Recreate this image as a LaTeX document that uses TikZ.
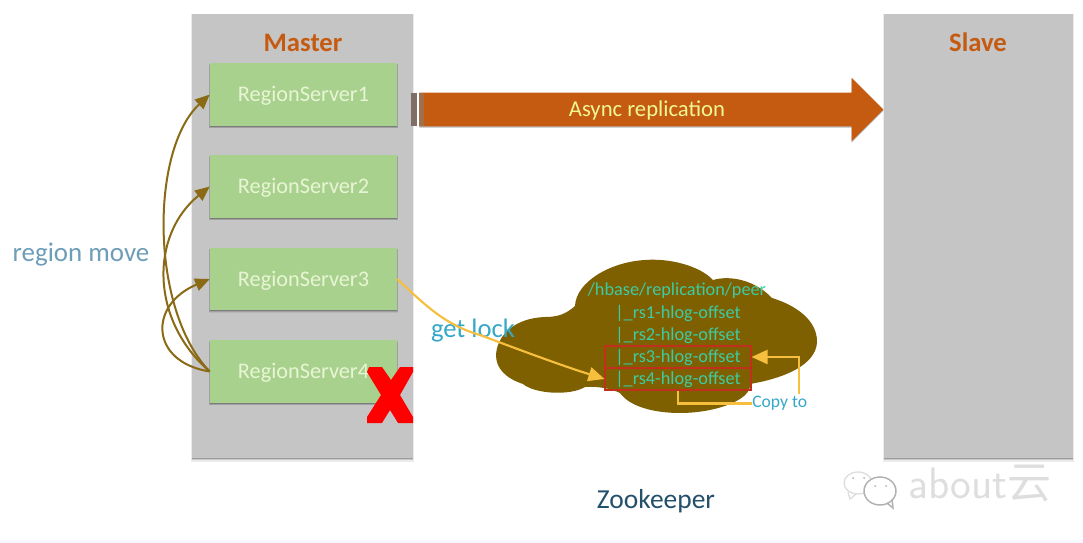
\documentclass[tikz,border=0pt]{standalone}
\usepackage{fontspec}
\setmainfont{Carlito}
\newfontfamily\cjk{Noto Sans CJK SC}
\usetikzlibrary{arrows.meta,shadows,shapes.arrows,calc}
\definecolor{panelgray}{HTML}{C6C5C6}
\definecolor{rsgreen}{HTML}{A9D18E}
\definecolor{rstext}{HTML}{E8F5D4}
\definecolor{rustorange}{HTML}{C55A11}
\definecolor{moss}{HTML}{7F6000}
\definecolor{movebrown}{HTML}{8A6A14}
\definecolor{lockyellow}{HTML}{F6BF3E}
\definecolor{labelblue}{HTML}{35A8C8}
\definecolor{moveblue}{HTML}{6E9DB8}
\definecolor{peergreen}{HTML}{3CCBA4}
\definecolor{boxred}{HTML}{C0301C}
\definecolor{zooblue}{HTML}{24506B}
\definecolor{markgray}{HTML}{DEDEDE}
\definecolor{stripeone}{HTML}{7E6E66}
\definecolor{stripetwo}{HTML}{A0704C}
\tikzset{
  x=0.75pt,y=-0.75pt,
  softshadow/.style={
    drop shadow={shadow xshift=0pt,shadow yshift=-1.4pt,shadow scale=1.014,fill=black,opacity=0.07},
    drop shadow={shadow xshift=0pt,shadow yshift=-1.1pt,shadow scale=1.007,fill=black,opacity=0.12},
    drop shadow={shadow xshift=0pt,shadow yshift=-0.8pt,fill=black,opacity=0.22}},
  panelshadow/.style={
    drop shadow={shadow xshift=0pt,shadow yshift=-1.6pt,shadow scale=1.008,fill=black,opacity=0.08},
    drop shadow={shadow xshift=0pt,shadow yshift=-1.2pt,shadow scale=1.004,fill=black,opacity=0.14},
    drop shadow={shadow xshift=0pt,shadow yshift=-0.8pt,fill=black,opacity=0.22}},
  panel/.style={fill=panelgray,draw=none,inner sep=0,panelshadow},
  rsbox/.style={fill=rsgreen,draw=none,inner sep=0,minimum width=140.25pt,minimum height=47pt,
    text height=14pt,text depth=3.2pt,
    text=rstext,font=\fontsize{16.7}{20}\selectfont,softshadow},
  title/.style={text=rustorange,font=\fontsize{20}{24}\selectfont\bfseries,inner sep=0},
  movearrow/.style={draw=movebrown,line width=1.5pt,-{Triangle[length=11pt,width=9.5pt,fill=movebrown]}},
  lockline/.style={draw=lockyellow,line width=1.6pt},
  lockarrow/.style={lockline,-{Triangle[length=12pt,width=10.5pt,fill=lockyellow]}},
  peertext/.style={text=peergreen,font=\fontsize{13.7}{16}\selectfont,inner sep=0},
  peerbox/.style={draw=boxred,line width=0.8pt,inner sep=0,minimum width=109.5pt,minimum height=16.5pt},
}
\begin{document}
\begin{tikzpicture}
\useasboundingbox (0,0) rectangle (1083,543);
\fill[white] (0,0) rectangle (1083,543);
\fill[black!6!blue!3!white] (0,540) rectangle (1083,543);
% panels
\node[panel,minimum width=165.75pt,minimum height=333pt] (master) at (302.5,236) {};
\node[panel,minimum width=141.75pt,minimum height=333pt] (slave) at (978.5,236) {};
\node[title] (mastertitle) at (303,42.5) {Master};
\node[title] (slavetitle) at (978,42.5) {Slave};
% region servers
\node[rsbox] (rs1) at (303.5,94.5) {RegionServer1};
\node[rsbox] (rs2) at (303.5,186.5) {RegionServer2};
\node[rsbox] (rs3) at (303.5,279) {RegionServer3};
\node[rsbox] (rs4) at (303.5,371.5) {RegionServer4};
% replication arrow
\node[single arrow,fill=rustorange,draw=none,inner sep=0,
  text height=17.3pt,text depth=7.45pt,
  minimum height=348pt,minimum width=47.25pt,
  single arrow head extend=11.25pt,single arrow tip angle=90,
  text=rstext!70!yellow,font=\fontsize{17}{20}\selectfont,
  drop shadow={shadow xshift=0pt,shadow yshift=-1pt,fill=black,opacity=0.28}]
  (async) at (643,109.5) {\hspace*{6pt}Async replication};
\fill[stripeone] (411,93) rectangle (417,126);
\fill[stripetwo] (419,93) rectangle (424,126);
% region moves
\draw[movearrow] (rs4.west) .. controls (150,310) and (150,150) .. (rs1.west);
\draw[movearrow] (rs4.west) .. controls (150,320) and (150,235) .. (rs2.west);
\draw[movearrow] (rs4.west) .. controls (150,362) and (148,305) .. (rs3.west);
\node[text=moveblue,font=\fontsize{20.2}{24}\selectfont,inner sep=0] (move) at (81,254.5) {region move};
% red cross
\fill[red] (369,367) -- (382,367) -- (391,380) -- (400,367) -- (413,367) -- (413,372)
  -- (400,395) -- (413,417) -- (413,423) -- (398,423) -- (390,410) -- (382,423)
  -- (367,423) -- (367,417) -- (381,395) -- (367,372) -- cycle;
% cloud
\fill[moss] (496,355)
  .. controls (497,335) and (515,318) .. (545,317)
  .. controls (558,317) and (566,314) .. (575,306)
  .. controls (576,282) and (610,262) .. (645,260)
  .. controls (670,258) and (700,266) .. (713,280)
  .. controls (730,275) and (755,280) .. (772,298)
  .. controls (795,305) and (818,320) .. (817,343)
  .. controls (815,365) and (785,378) .. (750,384)
  .. controls (752,400) and (715,413) .. (680,413)
  .. controls (655,413) and (630,407) .. (620,393)
  .. controls (610,388) and (595,386) .. (585,387)
  .. controls (570,396) and (535,394) .. (523,384)
  .. controls (505,378) and (496,368) .. (496,355) -- cycle;
% peer texts
\node[peertext] (peer) at (677,291) {/hbase/replication/peer};
\node[peertext] (l1) at (678,313) {|\_rs1-hlog-offset};
\node[peertext] (l2) at (678,335) {|\_rs2-hlog-offset};
\node[peertext] (l3) at (678,357) {|\_rs3-hlog-offset};
\node[peertext] (l4) at (678,379) {|\_rs4-hlog-offset};
\node[peerbox] (b3) at (678,357) {};
\node[peerbox] (b4) at (678,379) {};
% lock
\node[text=labelblue,font=\fontsize{20}{24}\selectfont,inner sep=0] (lock) at (473,330.5) {get lock};
\draw[lockarrow] (rs3.east) .. controls (425,305) and (445,325) .. (480,335)
  .. controls (520,350) and (560,365) .. (b4.west);
% copy to
\node[text=labelblue,font=\fontsize{13.2}{16}\selectfont,inner sep=0,anchor=west] (copy) at (752,403.5) {Copy to};
\coordinate (copytop) at (799,394);
\draw[lockline] (b4.south) |- (copy.west);
\draw[lockarrow] (copytop) |- (b3.east);
% zookeeper
\node[text=zooblue,font=\fontsize{20.6}{24}\selectfont,inner sep=0] (zk) at (656,501) {Zookeeper};
% watermark
\draw[markgray,line width=1pt] (858,483) ellipse [x radius=14,y radius=11];
\fill[white] (880,491) ellipse [x radius=16,y radius=14];
\draw[markgray!80!black,line width=1.1pt] (880,491) ellipse [x radius=16,y radius=14];
\draw[markgray,line width=1pt] (848,492) -- (850,499) -- (856,494);
\draw[markgray!80!black,line width=1.1pt] (887,503) -- (893,508) -- (892,499);
\fill[markgray!80!black] (853,478) circle (1) (864,478) circle (1) (875,486) circle (1) (886,486) circle (1);
\node[text=markgray,font=\fontsize{33}{36}\selectfont\sffamily,inner sep=0,anchor=west] (mark) at (908,484) {about{\cjk 云}};
\end{tikzpicture}
\end{document}
